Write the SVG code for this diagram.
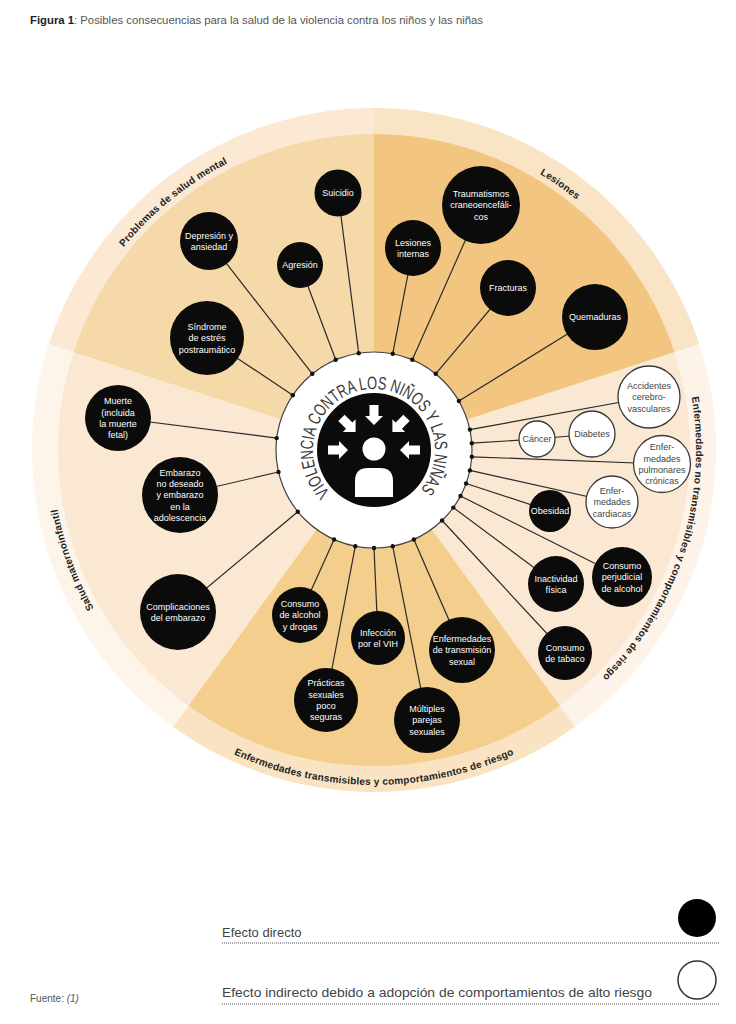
<svg xmlns="http://www.w3.org/2000/svg" xmlns:xlink="http://www.w3.org/1999/xlink" width="736" height="1024" viewBox="0 0 736 1024">
<style>
.nb{fill:#0b0b0b}
.nw{fill:#fff;stroke:#3a3a3a;stroke-width:1.3}
.tw{font-family:"Liberation Sans",Arial,sans-serif;font-size:9px;fill:#fff;text-anchor:middle}
.td{font-family:"Liberation Sans",Arial,sans-serif;font-size:9px;fill:#444;text-anchor:middle}
.cat{font-family:"Liberation Sans",Arial,sans-serif;font-size:10px;font-weight:bold;fill:#222;letter-spacing:0.2px}
#connectors line{stroke:#2a2a2a;stroke-width:1.2}
.dot{fill:#111}
.leg{font-family:"Liberation Sans",Arial,sans-serif;font-size:13px;fill:#444}
.dl{stroke:#555;stroke-width:1.2;stroke-dasharray:1 1}
</style>
<defs>
<path id="pMental" d="M57.9,388.6 A322,322 0 0 1 379.6,128.0"/>
<path id="pLes" d="M402.1,129.2 A322,322 0 0 1 665.8,313.9"/>
<path id="pRight" d="M671.9,327.8 A322,322 0 0 1 546.1,722.2"/>
<path id="pMat" d="M167.0,696.7 A322,322 0 0 1 56.9,394.1"/>
<path id="pBot" d="M158.7,706.6 A335,335 0 0 0 589.3,706.6"/>
<path id="pCenter" d="M330.1,492.4 A61,61 0 1 1 420.7,489.2"/>
<polygon id="arr" points="0,0 -9,-9 -9,-4.5 -20,-4.5 -20,4.5 -9,4.5 -9,9" fill="#fff"/>
</defs>
<rect width="736" height="1024" fill="#fff"/>
<text x="30" y="24" font-family="'Liberation Sans',Arial,sans-serif" font-size="10.8" fill="#555" textLength="453" lengthAdjust="spacingAndGlyphs"><tspan font-weight="bold" fill="#222">Figura 1</tspan>: Posibles consecuencias para la salud de la violencia contra los niños y las niñas</text>

<g id="sectors">
<path d="M374,450 L48.7,344.3 A342,342 0 0 1 374,108 Z" fill="#fbe9d3"/>
<path d="M374,450 L73.5,352.4 A316,316 0 0 1 374,134 Z" fill="#f6d9a9"/>
<path d="M374,450 L374,108 A342,342 0 0 1 699.3,344.3 Z" fill="#fae4c6"/>
<path d="M374,450 L374,134 A316,316 0 0 1 674.5,352.4 Z" fill="#f2c681"/>
<path d="M374,450 L699.3,344.3 A342,342 0 0 1 575,726.7 Z" fill="#fdf3e8"/>
<path d="M374,450 L674.5,352.4 A316,316 0 0 1 559.7,705.6 Z" fill="#fae8d2"/>
<path d="M374,450 L575,726.7 A342,342 0 0 1 173,726.7 Z" fill="#fae3c3"/>
<path d="M374,450 L559.7,705.6 A316,316 0 0 1 188.3,705.6 Z" fill="#f3ce8c"/>
<path d="M374,450 L173,726.7 A342,342 0 0 1 48.7,344.3 Z" fill="#fdf4ea"/>
<path d="M374,450 L188.3,705.6 A316,316 0 0 1 73.5,352.4 Z" fill="#fae8d3"/>
</g>

<g id="category-labels">
<text class="cat"><textPath href="#pMental" startOffset="50%" text-anchor="middle">Problemas de salud mental</textPath></text>
<text class="cat"><textPath href="#pLes" startOffset="50%" text-anchor="middle">Lesiones</textPath></text>
<text class="cat"><textPath href="#pRight" startOffset="50%" text-anchor="middle">Enfermedades no transmisibles y comportamientos de riesgo</textPath></text>
<text class="cat"><textPath href="#pMat" startOffset="50%" text-anchor="middle">Salud maternoinfantil</textPath></text>
<text class="cat"><textPath href="#pBot" startOffset="50%" text-anchor="middle">Enfermedades transmisibles y comportamientos de riesgo</textPath></text>
</g>

<g id="center">
<circle cx="374" cy="450" r="98" fill="#fff" stroke="#444" stroke-width="1.2"/>
<circle cx="374" cy="450" r="57" fill="#0b0b0b"/>
<circle cx="374" cy="449" r="11.5" fill="#fff"/>
<path d="M355,497 L355,481 Q355,468 368,468 L380,468 Q393,468 393,481 L393,497 Z" fill="#fff"/>
<use href="#arr" transform="translate(348,450)"/>
<use href="#arr" transform="translate(400,450) rotate(180)"/>
<use href="#arr" transform="translate(374,425) rotate(90)"/>
<use href="#arr" transform="translate(355.6,432) rotate(45)"/>
<use href="#arr" transform="translate(392.4,432) rotate(135)"/>
<text font-family="'Liberation Sans',Arial,sans-serif" font-size="18" fill="#3a3a3a"><textPath href="#pCenter" textLength="281" lengthAdjust="spacingAndGlyphs">VIOLENCIA CONTRA LOS NIÑOS Y LAS NIÑAS</textPath></text>
</g>

<g id="connectors">
<line x1="292.8" y1="395.2" x2="207" y2="338"/>
<line x1="312.3" y1="373.8" x2="209" y2="241"/>
<line x1="335.7" y1="359.8" x2="300" y2="265"/>
<line x1="358.7" y1="353.2" x2="338" y2="193"/>
<line x1="392.7" y1="353.8" x2="413" y2="248"/>
<line x1="412.3" y1="359.8" x2="481" y2="205"/>
<line x1="435.7" y1="373.8" x2="508" y2="288"/>
<line x1="458.9" y1="401" x2="595" y2="317"/>
<line x1="469.9" y1="429.6" x2="649" y2="397"/>
<line x1="471.8" y1="443.2" x2="537" y2="439"/>
<line x1="537" y1="439" x2="592" y2="434"/>
<line x1="471.8" y1="456.8" x2="662" y2="464"/>
<line x1="469.9" y1="470.4" x2="612" y2="502"/>
<line x1="466.1" y1="483.5" x2="550" y2="511"/>
<line x1="460.5" y1="496" x2="622" y2="577"/>
<line x1="453.3" y1="507.6" x2="556" y2="584"/>
<line x1="442.1" y1="520.5" x2="565" y2="653"/>
<line x1="413.9" y1="539.5" x2="462" y2="650"/>
<line x1="392.7" y1="546.2" x2="427" y2="720"/>
<line x1="374" y1="548" x2="378" y2="638"/>
<line x1="355.3" y1="546.2" x2="326" y2="700"/>
<line x1="334.1" y1="539.5" x2="300" y2="615"/>
<line x1="297.8" y1="511.7" x2="178" y2="612"/>
<line x1="278.5" y1="472" x2="180" y2="495"/>
<line x1="276.7" y1="438.1" x2="118" y2="418"/>
<g class="dot">
<circle cx="292.8" cy="395.2" r="2.2"/><circle cx="312.3" cy="373.8" r="2.2"/><circle cx="335.7" cy="359.8" r="2.2"/><circle cx="358.7" cy="353.2" r="2.2"/>
<circle cx="392.7" cy="353.8" r="2.2"/><circle cx="412.3" cy="359.8" r="2.2"/><circle cx="435.7" cy="373.8" r="2.2"/><circle cx="458.9" cy="401" r="2.2"/>
<circle cx="469.9" cy="429.6" r="2.2"/><circle cx="471.8" cy="443.2" r="2.2"/><circle cx="471.8" cy="456.8" r="2.2"/><circle cx="469.9" cy="470.4" r="2.2"/>
<circle cx="466.1" cy="483.5" r="2.2"/><circle cx="460.5" cy="496" r="2.2"/><circle cx="453.3" cy="507.6" r="2.2"/><circle cx="442.1" cy="520.5" r="2.2"/>
<circle cx="413.9" cy="539.5" r="2.2"/><circle cx="392.7" cy="546.2" r="2.2"/><circle cx="374" cy="548" r="2.2"/><circle cx="355.3" cy="546.2" r="2.2"/>
<circle cx="334.1" cy="539.5" r="2.2"/><circle cx="297.8" cy="511.7" r="2.2"/><circle cx="278.5" cy="472" r="2.2"/><circle cx="276.7" cy="438.1" r="2.2"/>
</g>
</g>

<g id="n-suicidio"><circle class="nb" cx="338" cy="193" r="23.5"/><text class="tw" x="338" y="196.2">Suicidio</text></g>
<g id="n-depresion"><circle class="nb" cx="209" cy="241" r="29"/><text class="tw" x="209" y="238.55">Depresión y<tspan x="209" dy="11.3">ansiedad</tspan></text></g>
<g id="n-agresion"><circle class="nb" cx="300" cy="265" r="23"/><text class="tw" x="300" y="268.2">Agresión</text></g>
<g id="n-sindrome"><circle class="nb" cx="207" cy="338" r="37"/><text class="tw" x="207" y="329.9">Síndrome<tspan x="207" dy="11.3">de estrés</tspan><tspan x="207" dy="11.3">postraumático</tspan></text></g>
<g id="n-lesiones-internas"><circle class="nb" cx="413" cy="248" r="28"/><text class="tw" x="413" y="245.55">Lesiones<tspan x="413" dy="11.3">internas</tspan></text></g>
<g id="n-traumatismos"><circle class="nb" cx="481" cy="205" r="39"/><text class="tw" x="481" y="196.9">Traumatismos<tspan x="481" dy="11.3">craneoencefáli-</tspan><tspan x="481" dy="11.3">cos</tspan></text></g>
<g id="n-fracturas"><circle class="nb" cx="508" cy="288" r="28"/><text class="tw" x="508" y="291.2">Fracturas</text></g>
<g id="n-quemaduras"><circle class="nb" cx="595" cy="317" r="33"/><text class="tw" x="595" y="320.2">Quemaduras</text></g>
<g id="n-accidentes"><circle class="nw" cx="649" cy="397" r="31"/><text class="td" x="649" y="388.9">Accidentes<tspan x="649" dy="11.3">cerebro-</tspan><tspan x="649" dy="11.3">vasculares</tspan></text></g>
<g id="n-cancer"><circle class="nw" cx="537" cy="439" r="18"/><text class="td" x="537" y="442.2">Cáncer</text></g>
<g id="n-diabetes"><circle class="nw" cx="592" cy="434" r="23"/><text class="td" x="592" y="437.2">Diabetes</text></g>
<g id="n-pulmonares"><circle class="nw" cx="662" cy="464" r="28.5"/><text class="td" x="662" y="450.25">Enfer-<tspan x="662" dy="11.3">medades</tspan><tspan x="662" dy="11.3">pulmonares</tspan><tspan x="662" dy="11.3">crónicas</tspan></text></g>
<g id="n-cardiacas"><circle class="nw" cx="612" cy="502" r="26"/><text class="td" x="612" y="493.9">Enfer-<tspan x="612" dy="11.3">medades</tspan><tspan x="612" dy="11.3">cardiacas</tspan></text></g>
<g id="n-obesidad"><circle class="nb" cx="550" cy="511" r="21"/><text class="tw" x="550" y="514.2">Obesidad</text></g>
<g id="n-alcohol-perjudicial"><circle class="nb" cx="622" cy="577" r="30"/><text class="tw" x="622" y="568.9">Consumo<tspan x="622" dy="11.3">perjudicial</tspan><tspan x="622" dy="11.3">de alcohol</tspan></text></g>
<g id="n-inactividad"><circle class="nb" cx="556" cy="584" r="28"/><text class="tw" x="556" y="581.55">Inactividad<tspan x="556" dy="11.3">física</tspan></text></g>
<g id="n-tabaco"><circle class="nb" cx="565" cy="653" r="27"/><text class="tw" x="565" y="650.55">Consumo<tspan x="565" dy="11.3">de tabaco</tspan></text></g>
<g id="n-alcohol-drogas"><circle class="nb" cx="300" cy="615" r="28"/><text class="tw" x="300" y="606.9">Consumo<tspan x="300" dy="11.3">de alcohol</tspan><tspan x="300" dy="11.3">y drogas</tspan></text></g>
<g id="n-vih"><circle class="nb" cx="378" cy="638" r="27"/><text class="tw" x="378" y="635.55">Infección<tspan x="378" dy="11.3">por el VIH</tspan></text></g>
<g id="n-ets"><circle class="nb" cx="462" cy="650" r="33"/><text class="tw" x="462" y="641.9">Enfermedades<tspan x="462" dy="11.3">de transmisión</tspan><tspan x="462" dy="11.3">sexual</tspan></text></g>
<g id="n-practicas"><circle class="nb" cx="326" cy="700" r="32"/><text class="tw" x="326" y="686.25">Prácticas<tspan x="326" dy="11.3">sexuales</tspan><tspan x="326" dy="11.3">poco</tspan><tspan x="326" dy="11.3">seguras</tspan></text></g>
<g id="n-multiples"><circle class="nb" cx="427" cy="720" r="33"/><text class="tw" x="427" y="711.9">Múltiples<tspan x="427" dy="11.3">parejas</tspan><tspan x="427" dy="11.3">sexuales</tspan></text></g>
<g id="n-muerte"><circle class="nb" cx="118" cy="418" r="33"/><text class="tw" x="118" y="404.25">Muerte<tspan x="118" dy="11.3">(incluida</tspan><tspan x="118" dy="11.3">la muerte</tspan><tspan x="118" dy="11.3">fetal)</tspan></text></g>
<g id="n-embarazo"><circle class="nb" cx="180" cy="495" r="38"/><text class="tw" x="180" y="475.6">Embarazo<tspan x="180" dy="11.3">no deseado</tspan><tspan x="180" dy="11.3">y embarazo</tspan><tspan x="180" dy="11.3">en la</tspan><tspan x="180" dy="11.3">adolescencia</tspan></text></g>
<g id="n-complicaciones"><circle class="nb" cx="178" cy="612" r="38"/><text class="tw" x="178" y="609.55">Complicaciones<tspan x="178" dy="11.3">del embarazo</tspan></text></g>

<g id="legend">
<text class="leg" x="222" y="937">Efecto directo</text>
<line class="dl" x1="222" y1="943" x2="719" y2="943"/>
<circle cx="697" cy="918" r="19" fill="#000"/>
<text class="leg" x="222" y="997" textLength="430" lengthAdjust="spacingAndGlyphs">Efecto indirecto debido a adopción de comportamientos de alto riesgo</text>
<line class="dl" x1="222" y1="1004" x2="719" y2="1004"/>
<circle cx="697" cy="980" r="19" fill="#fff" stroke="#333" stroke-width="1.5"/>
</g>
<text x="30" y="1002" font-family="'Liberation Sans',Arial,sans-serif" font-size="10" fill="#555">Fuente: <tspan font-style="italic">(1)</tspan></text>
</svg>
